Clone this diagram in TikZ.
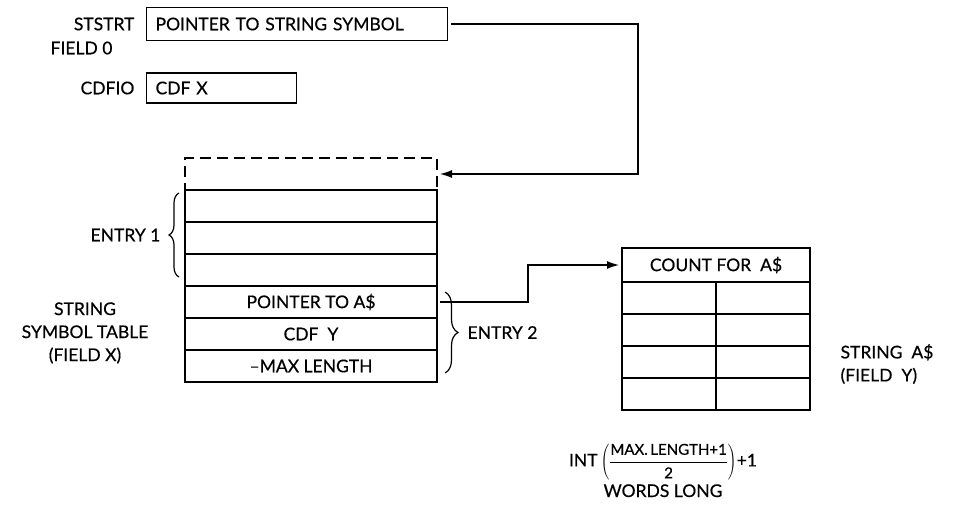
\documentclass[tikz,border=0pt]{standalone}
\usepackage{fontspec}
\setmainfont{Lato}[FakeBold=0.5]
\usetikzlibrary{positioning, arrows.meta, decorations.pathreplacing}

\begin{document}
\begin{tikzpicture}[x=1pt, y=-1pt, line width=1.2pt,
  lbl/.style={font=\fontsize{17.5}{23}\selectfont, inner sep=0pt},
  wordbox/.style={draw, lbl, minimum height=33pt, inner xsep=9pt, align=left, anchor=west},
  cell/.style={draw, lbl, minimum width=252pt, minimum height=32pt, inner sep=0pt, outer sep=0pt},
  half/.style={draw, minimum width=94pt, minimum height=32pt, inner sep=0pt, outer sep=0pt},
  link/.style={-{Latex[length=12pt, width=8pt]}, shorten >=3pt, shorten <=3pt},
  curly/.style={decorate, decoration={brace, amplitude=10pt}}]
\useasboundingbox (0,0) rectangle (956,506);

% field 0
\node[wordbox, text width=283pt] (ptrbox) at (146,24) {POINTER TO STRING SYMBOL};
\node[lbl, left=11pt of ptrbox] (ststrt) {STSTRT};
\node[lbl, anchor=west] (field0) at (50,48) {FIELD 0};
\node[wordbox, text width=132pt, minimum height=30pt] (cdfbox) at (146,88) {CDF X};
\node[lbl, left=11pt of cdfbox] (cdfio) {CDFIO};

% string symbol table
\node[cell, dash pattern=on 11pt off 6pt] (top) at (311,174) {};
\node[cell, below=0pt of top] (e1a) {};
\node[cell, below=0pt of e1a] (e1b) {};
\node[cell, below=0pt of e1b] (e1c) {};
\node[cell, below=0pt of e1c] (pa) {POINTER TO A\$};
\node[cell, below=0pt of pa] (cdfy) {CDF~~Y};
\node[cell, below=0pt of cdfy] (maxlen) {--MAX LENGTH};
\node[lbl, align=center] (symtab) at (85,333) {STRING\\SYMBOL TABLE\\(FIELD X)};

\draw[curly] ([xshift=-6pt, yshift=9pt]e1c.south west) -- ([xshift=-6pt, yshift=-3pt]e1a.north west)
  node[midway, lbl, left=18pt] (entry1) {ENTRY 1};
\draw[curly, decoration={amplitude=13pt}] ([xshift=8pt, yshift=-6pt]pa.north east) -- ([xshift=8pt, yshift=9pt]maxlen.south east)
  node[midway, lbl, right=22pt] (entry2) {ENTRY 2};

% string A$
\node[draw, lbl, minimum width=188pt, minimum height=34pt, inner sep=0pt, outer sep=0pt] (count) at (716,265) {COUNT FOR~~A\$};
\foreach \r [count=\i] in {0,1,2,3} {
  \node[half, anchor=north west] (l\i) at ([yshift=-32*\r pt]count.south west) {};
  \node[half, anchor=north east] (r\i) at ([yshift=-32*\r pt]count.south east) {};
}
\node[lbl, align=left, anchor=west] (strA) at (840,364) {STRING~~A\$\\(FIELD~~Y)};
\node[lbl] (intexpr) at (663,462)
  {INT\,$\left(\displaystyle\frac{\mbox{\fontsize{15}{18}\selectfont MAX.\,LENGTH+1}}{\mbox{\fontsize{15}{18}\selectfont 2}}\right)$+1};
\node[lbl, below=3pt of intexpr.south, anchor=north] (words) {WORDS LONG};

% pointers
\coordinate (bend) at (528,0);
\coordinate (drop) at (638,0);
\draw[link] (ptrbox.east) -- (ptrbox.east -| drop) |- (top.east);
\draw[link] (pa.east) -- (pa.east -| bend) |- (count.west);
\end{tikzpicture}
\end{document}
